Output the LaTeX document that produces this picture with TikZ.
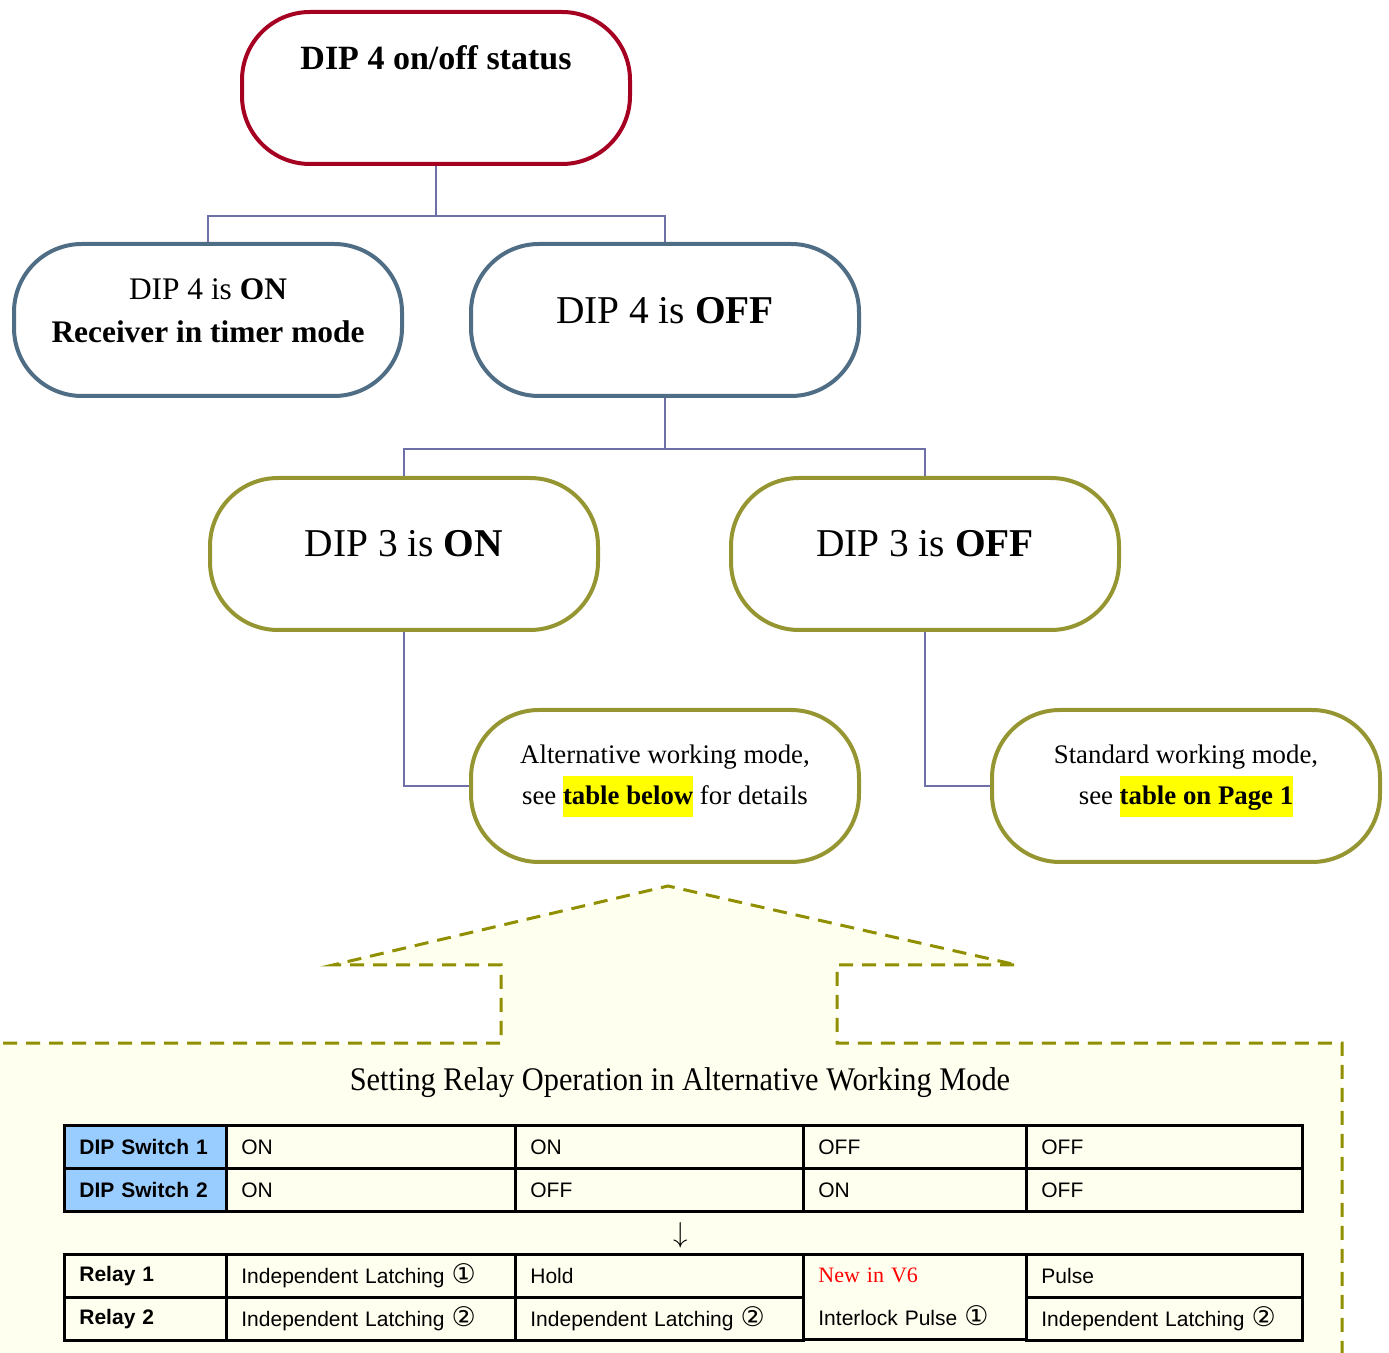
\documentclass[tikz,border=0pt]{standalone}
\usepackage{fontspec}
\setmainfont{Liberation Serif}
\setsansfont{Liberation Sans}
\newfontfamily\circfont{DejaVu Sans}
\usepackage{graphicx}
\usepackage{tikz}

\definecolor{rootred}{HTML}{A50021}
\definecolor{slategray}{HTML}{4F6D84}
\definecolor{olivebox}{HTML}{959532}
\definecolor{linkpurple}{HTML}{7070A8}
\definecolor{dashol}{HTML}{8F8F00}
\definecolor{cream}{HTML}{FFFFF0}
\definecolor{headblue}{HTML}{99CCFF}
\definecolor{hlyellow}{HTML}{FFFF00}

\newcommand{\lifted}[2]{\raisebox{#1}[0pt][0pt]{\begin{tabular}{@{}c@{}}#2\end{tabular}}}
\newcommand{\hl}[1]{{\setlength{\fboxsep}{0pt}\colorbox{hlyellow}{\strut\textbf{#1}}}}
\newcommand{\cone}{{\circfont\fontsize{13.5}{12}\selectfont ①}}
\newcommand{\ctwo}{{\circfont\fontsize{13.5}{12}\selectfont ②}}

\begin{document}
\begin{tikzpicture}[x=0.5pt,y=-0.5pt,
  pill/.style={rectangle,rounded corners=34pt,line width=2pt,fill=white,
               minimum width=194pt,minimum height=76pt,inner sep=0pt},
  rootpill/.style={pill,draw=rootred},
  dippill/.style={pill,draw=slategray},
  modepill/.style={pill,draw=olivebox},
  link/.style={linkpurple,line width=1pt},
  cell/.style={draw,line width=1.4pt,anchor=north west,minimum height=21.5pt,
               inner xsep=7.5pt,inner ysep=0pt,align=left,
               font=\sffamily\fontsize{10.5}{12.6}\selectfont},
  headcell/.style={cell,fill=headblue,text width=66pt,
               font=\sffamily\bfseries\fontsize{10.5}{12.6}\selectfont}]

\useasboundingbox (0,0) rectangle (1389,1353);

%% ---------- callout behind the table ----------
\draw[dashol,fill=cream,line width=1.5pt,dash pattern=on 7pt off 4.5pt]
  (-20,1043) -- (501,1043) -- (501,965) -- (333,965) -- (668,886)
  -- (1017,965) -- (837,965) -- (837,1043) -- (1342,1043) -- (1342,1380)
  -- (-20,1380) -- cycle;

%% ---------- tree ----------
\node[rootpill,font=\bfseries\fontsize{17}{20.4}\selectfont] (dip4) at (436,88)
  {\lifted{9.2pt}{DIP 4 on/off status}};
\node[dippill,font=\fontsize{15.7}{21.5}\selectfont] (dip4on) at (208,320)
  {\lifted{0pt}{DIP 4 is \textbf{ON}\\\textbf{Receiver in timer mode}}};
\node[dippill,font=\fontsize{19.7}{23.6}\selectfont] (dip4off) at (665,320)
  {\lifted{-2.2pt}{DIP 4 is \textbf{OFF}}};
\node[modepill,font=\fontsize{19.7}{23.6}\selectfont] (dip3on) at (404,554)
  {\lifted{-1.7pt}{DIP 3 is \textbf{ON}}};
\node[modepill,font=\fontsize{19.7}{23.6}\selectfont] (dip3off) at (925,554)
  {\lifted{-1.7pt}{DIP 3 is \textbf{OFF}}};
\node[modepill,font=\fontsize{13.4}{20.5}\selectfont] (altmode) at (665,786)
  {\lifted{1.5pt}{Alternative working mode,\\see \hl{table below} for details}};
\node[modepill,font=\fontsize{13.4}{20.5}\selectfont] (stdmode) at (1186,786)
  {\lifted{1.5pt}{Standard working mode,\\see \hl{table on Page 1}}};

% branches
\coordinate (bus1) at (436,216);
\coordinate (bus2) at (665,449);
\draw[link] (dip4.south) -- (bus1);
\draw[link] (dip4on.north) |- (bus1) -| (dip4off.north);
\draw[link] (dip4off.south) -- (bus2);
\draw[link] (dip3on.north) |- (bus2) -| (dip3off.north);
\draw[link] (dip3on.south) |- (altmode.west);
\draw[link] (dip3off.south) |- (stdmode.west);

%% ---------- table ----------
\node[font=\fontsize{16.5}{19}\selectfont] (title) at (680,1083)
  {\scalebox{0.92}[1]{Setting Relay Operation in Alternative Working Mode}};

% switch settings
\node[headcell] (sw1) at (63,1124) {DIP Switch 1};
\node[headcell] (sw2) at (63,1167) {DIP Switch 2};
\foreach \x/\w/\a/\b [count=\i, evaluate=\w as \tw using \w/2-15] in
  {225/289/ON/ON,514/288/ON/OFF,802/223/OFF/ON,1025/276/OFF/OFF}{
  \node[cell,text width=\tw pt] (swa\i) at (\x,1124) {\a};
  \node[cell,text width=\tw pt] (swb\i) at (\x,1167) {\b};
}

\node[font=\fontsize{14}{14}\selectfont] (down) at (681,1235) {$\downarrow$};

% relay result
\node[headcell,fill=none] (relay1) at (63,1253) {Relay 1};
\node[headcell,fill=none] (relay2) at (63,1296) {Relay 2};
\node[cell,text width=129.5pt] (ra1) at (225,1253) {Independent Latching \cone};
\node[cell,text width=129.5pt] (rb1) at (225,1296) {Independent Latching \ctwo};
\node[cell,text width=129pt] (ra2) at (514,1253) {Hold};
\node[cell,text width=129pt] (rb2) at (514,1296) {Independent Latching \ctwo};
\node[cell,text width=96.5pt,minimum height=42.5pt,
      font=\sffamily\fontsize{10.5}{21.5}\selectfont] (rab3) at (802,1253)
  {\mbox{\rmfamily\color{red}\fontsize{11}{12}\selectfont New in V6}\\Interlock Pulse \cone};
\node[cell,text width=123pt] (ra4) at (1025,1253) {Pulse};
\node[cell,text width=123pt] (rb4) at (1025,1296) {Independent Latching \ctwo};

\end{tikzpicture}
\end{document}
